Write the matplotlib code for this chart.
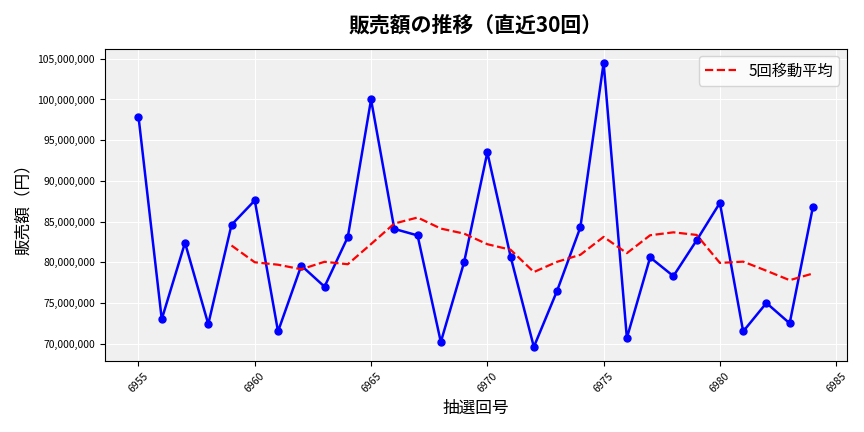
import matplotlib
matplotlib.use("Agg")
import matplotlib.pyplot as plt
import pandas as pd

plt.rcParams['font.family'] = ['Noto Sans CJK JP', 'DejaVu Sans']

draws = list(range(6955, 6985))
sales_m = [97.9, 73.0, 82.4, 72.4, 84.6, 87.6, 71.5, 79.6, 77.0, 83.1,
           100.0, 84.1, 83.3, 70.2, 80.0, 93.5, 80.7, 69.6, 76.5, 84.3,
           104.5, 70.7, 80.6, 78.3, 82.7, 87.3, 71.5, 75.0, 72.5, 86.8]
sales = [v * 1e6 for v in sales_m]
ma = pd.Series(sales).rolling(5).mean()

fig, ax = plt.subplots(figsize=(8.64, 4.32), dpi=100)
ax.set_facecolor('#f0f0f0')
ax.grid(True, color='white', linewidth=0.8)
ax.set_axisbelow(True)
ax.plot(draws, sales, color='blue', marker='o', markersize=5, linewidth=1.8)
ax.plot(draws, ma, color='red', linestyle='--', linewidth=1.6, label='5回移動平均')
ax.set_title('販売額の推移（直近30回）', fontsize=15, fontweight='bold', pad=12)
ax.set_xlabel('抽選回号', fontsize=12)
ax.set_ylabel('販売額（円）', fontsize=12)
ax.yaxis.set_major_formatter(matplotlib.ticker.FuncFormatter(lambda v, p: f'{v:,.0f}'))
ax.tick_params(axis='both', labelsize=7.5)
plt.setp(ax.get_xticklabels(), rotation=45)
ax.legend(loc='upper right', fontsize=11)
fig.tight_layout()
fig.savefig('out.png')
